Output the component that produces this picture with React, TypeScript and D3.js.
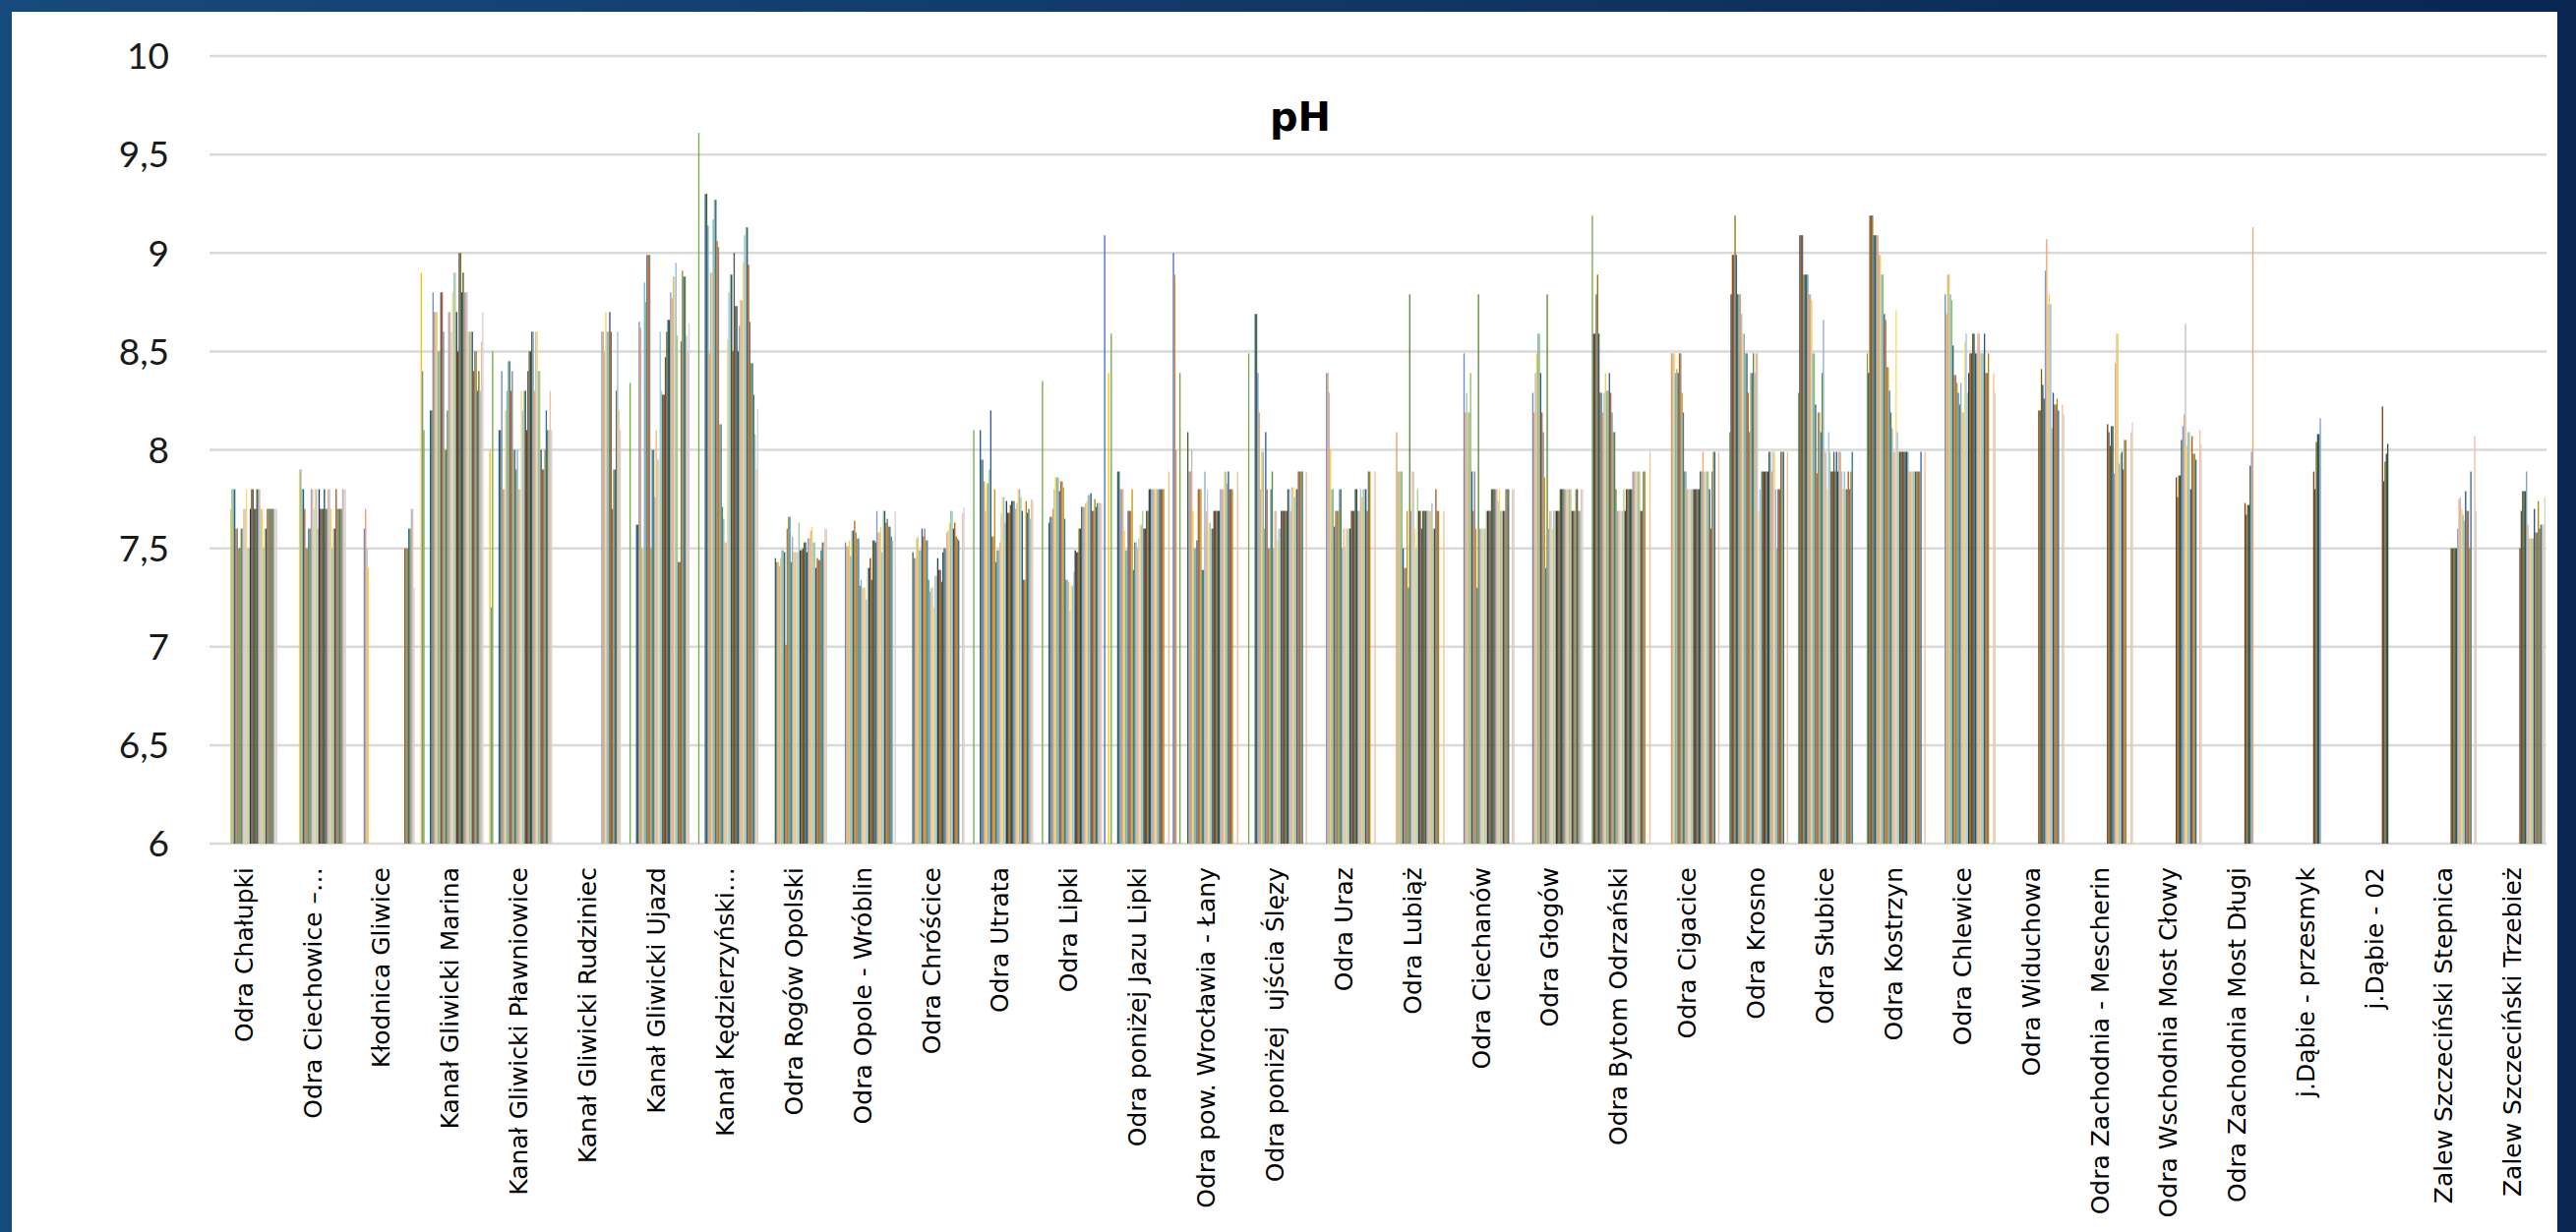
import React, { useEffect, useRef } from 'react';
import * as d3 from 'd3';

const _ = null;

const stations = [
  'Odra Chałupki', 'Odra Ciechowice –…', 'Kłodnica Gliwice', 'Kanał Gliwicki Marina',
  'Kanał Gliwicki Pławniowice', 'Kanał Gliwicki Rudziniec', 'Kanał Gliwicki Ujazd',
  'Kanał Kędzierzyński…', 'Odra Rogów Opolski', 'Odra Opole - Wróblin', 'Odra Chróścice',
  'Odra Utrata', 'Odra Lipki', 'Odra poniżej Jazu Lipki', 'Odra pow. Wrocławia - Łany',
  'Odra poniżej  ujścia Ślęzy', 'Odra Uraz', 'Odra Lubiąż', 'Odra Ciechanów', 'Odra Głogów',
  'Odra Bytom Odrzański', 'Odra Cigacice', 'Odra Krosno', 'Odra Słubice', 'Odra Kostrzyn',
  'Odra Chlewice', 'Odra Widuchowa', 'Odra Zachodnia - Mescherin', 'Odra Wschodnia Most Cłowy',
  'Odra Zachodnia Most Długi', 'j.Dąbie - przesmyk', 'j.Dąbie - 02',
  'Zalew Szczeciński Stepnica', 'Zalew Szczeciński Trzebież',
];

// one array per station, one slot per sampling series (51), null = no sample
const odraChalupki = [
  _, _, _, _, _, _, _, _, _, _, _, _, _, _, _,
  7.7, 7.8, 7.8, 7.8, 7.6, 7.6, 7.5, 7.5, 7.6, 7.6, 7.7, 7.7, 7.8, 7.5, 7.5, 7.7, 7.8, 7.8,
  7.7, 7.7, 7.8, 7.8, 7.8, 7.7, 7.7, 7.5, 7.6, 7.6, 7.7, 7.7, 7.7, 7.7, 7.7, 7.7, 7.7, 7.7];
const odraCiechowice = [
  _, _, _, _, _, _, _, _, _, _, _, _, _, _, _,
  7.9, 7.9, 7.8, 7.8, 7.7, 7.5, 7.5, 7.6, 7.6, 7.8, 7.8, 7.7, 7.8, 7.8, 7.6, 7.8, 7.7, 7.7,
  7.7, 7.8, 7.7, 7.7, 7.8, 7.8, 7.7, 7.5, 7.6, 7.6, 7.8, 7.7, 7.7, 7.7, 7.7, 7.8, 7.8, 7.8];
const klodnicaGliwice = [
  _, _, _, _, _, _, _, _, _, _, _, _,
  7.6, 7.7, 7.5, 7.4,
  _, _, _, _, _, _, _, _, _, _, _, _, _, _, _, _, _, _, _, _, _, _, _, _, _, _, _,
  7.5, 7.5, 7.5, 7.6, 7.6, 7.7, 7.7, 7.3];
const kanalMarina = [
  _, _, _, 8.9, 8.4, 8.1, _, _, _, _,
  8.2, 8.2, 8.8, 8.7, 8.7, 8.7, 8.5, 8.5, 8.8, 8.8, 8.6, 8.0, 8.0, 8.2, 8.7, 8.7, 8.6, 8.8, 8.9, 8.9,
  8.7, 8.5, 9.0, 9.0, 8.8, 8.9, 8.8, 8.8, 8.8, 8.6, 8.6, 8.6, 8.6, 8.4, 8.5, 8.5, 8.3, 8.4, 8.3, 8.55, 8.7];
const kanalPlawniowice = [
  _, _, _, 8.0, 7.2, 8.5, _, _, _, _,
  8.1, 8.1, 8.4, 7.8, 7.8, 8.2, 8.3, 8.45, 8.45, 8.3, 8.4, 8.0, 8.0, 7.9, 8.0, 7.8, 7.8, 8.3, 8.2, 8.3,
  8.3, 8.1, 8.4, 8.5, 8.5, 8.6, 8.6, 8.3, 8.6, 8.6, 8.4, 8.4, 8.0, 7.9, 7.9, 8.0, 8.2, 8.1, 8.1, 8.3, 8.1];
const kanalRudziniec = [
  _, _, _, _, _, _, _, _, _, _, _, _, _, _, _, _, _, _, _, _, _, _, _, _, _, _, _, _, _, _, _, _, _, _, _, _,
  8.6, 8.6, 8.5, 8.7, 8.6, 8.6, 8.7, 8.6, 7.7, 7.9, 7.9, 8.3, 8.6, 8.2, 8.1];
const kanalUjazd = [
  _, _, _, _, _, 8.34, _, _, _, _,
  7.62, 7.62, 8.65, 8.62, 7.5, 7.5, 8.85, 8.75, 8.99, 8.99, 8.99, 7.5, 8.0, 8.0, 7.76, 8.1, 7.95, 7.95, 8.6, 8.3,
  8.28, 8.28, 8.47, 8.6, 8.66, 8.66, 8.8, 8.77, 8.88, 8.88, 8.95, 8.58, 7.43, 7.43, 8.55, 8.91, 8.88, 8.88, 8.58, 8.5, 8.64];
const kanalKedzierzynski = [
  _, _, _, _, _, 9.61, _, _, _, _,
  9.3, 9.3, 9.14, 8.49, 8.9, 8.9, 9.17, 9.27, 9.27, 9.06, 9.03, 8.13, 8.13, 7.71, 7.65, 7.53, 7.53, 8.56, 8.8, 8.89,
  8.89, 8.5, 9.0, 8.73, 8.73, 8.5, 8.63, 8.76, 8.76, 8.95, 9.09, 9.13, 9.13, 8.94, 8.65, 8.44, 8.44, 8.28, 8.08, 7.9, 8.21];
const odraRogow = [
  _, _, _, _, _, _, _, _, _, _, _,
  7.45, 7.43, 7.43, 7.41, 7.45, 7.49, 7.49, 7.48, 7.01, 7.6, 7.66, 7.66, 7.43, 7.56, 7.48, 7.48, 7.48, 7.48, 7.63, 7.49,
  7.49, 7.5, 7.53, 7.53, 7.48, 7.55, 7.55, 7.59, 7.61, 7.53, 7.53, 7.4, 7.45, 7.44, 7.44, 7.49, 7.53, 7.53, 7.6, 7.6];
const odraWroblin = [
  _, _, _, _, _, _, _, _, _, _, _, _,
  7.53, 7.51, 7.51, 7.54, 7.46, 7.59, 7.59, 7.64, 7.58, 7.55, 7.55, 7.31, 7.34, 7.3, 7.3, 7.3, 7.24, 7.4, 7.4, 7.45,
  7.34, 7.54, 7.54, 7.53, 7.69, 7.58, 7.58, 7.61, 7.48, 7.69, 7.69, 7.63, 7.65, 7.61, 7.61, 7.56, 7.54, _, 7.69];
const odraChroscice = [
  _, _, _, _, _, _, _, _, _, _, _,
  7.48, 7.45, 7.45, 7.55, 7.56, 7.49, 7.49, 7.6, 7.56, 7.6, 7.54, 7.54, 7.34, 7.28, 7.3, 7.3, 7.2, 7.36, 7.36, 7.45,
  7.39, 7.39, 7.33, 7.48, 7.5, 7.5, 7.58, 7.59, 7.63, 7.69, 7.69, 7.6, 7.63, 7.56, 7.55, 7.54, _, _, 7.68, 7.71];
const odraUtrata = [
  _, _, _, _, _, 8.1, _, _, _, _,
  8.1, 7.95, 7.95, 7.84, 7.69, 7.83, 7.83, 7.9, 8.2, 7.56, 7.56, 7.8, 7.43, 7.49, 7.49, 7.53, 7.68, 7.76, 7.76, 7.63,
  7.74, 7.68, 7.68, 7.72, 7.74, 7.74, 7.74, 7.7, 7.73, 7.8, 7.8, 7.76, 7.69, 7.34, 7.34, 7.74, 7.68, 7.7, 7.65, 7.75, 7.74];
const odraLipki = [
  _, _, _, _, _, 8.35, _, _, _, _,
  7.63, 7.66, 7.66, 7.7, 7.8, 7.86, 7.86, 7.86, 7.79, 7.84, 7.84, 7.81, 7.65, 7.34, 7.34, 7.33, 7.18, 7.31, 7.31, 7.38,
  7.49, 7.48, 7.48, 7.6, 7.6, 7.71, 7.71, 7.71, 7.73, 7.74, 7.77, 7.77, 7.78, 7.69, 7.69, 7.75, 7.71, 7.73, 7.73, 7.73, 7.73];
const odraJazuLipki = [
  9.09, _, _, 8.39, _, 8.59, _, _, _, _,
  7.89, 7.89, 7.8, 7.8, 7.8, 7.59, 7.49, 7.49, 7.69, 7.69, 7.69, 7.8, 7.39, 7.53, 7.53, 7.5, 7.55, 7.62, 7.62, 7.69,
  7.6, 7.6, 7.69, 7.69, 7.8, 7.8, 7.8, 7.8, 7.8, 7.8, 7.8, 7.8, 7.8, 7.8, 7.8, 7.8,
  _, _, _, 7.89, _];
const odraLany = [
  9.0, 8.89, 8.0, _, _, 8.39, _, _, _, _, _,
  8.09, 7.89, 7.89, 8.0, 7.69, 7.5, 7.5, 7.54, 7.8, 7.8, 7.8, 7.39, 7.39, 7.89, 7.69, 7.8, 7.63, 7.63, 7.6, 7.6,
  7.69, 7.69, 7.69, 7.69, 7.69, 7.8, 7.8, 7.8, 7.89, 7.89, 7.83, 7.89, 7.8, 7.8, 7.8,
  _, _, _, 7.89, _];
const odraSlezy = [
  _, _, _, _, _, 8.49, _, _, _, _,
  8.69, 8.69, 8.39, 8.19, 7.8, 7.99, 7.99, 7.6, 8.09, 7.8, 7.5, 7.5, 7.8, 7.89, 7.5, 7.69, 7.69, 7.54, 7.6, 7.6,
  7.69, 7.69, 7.69, 7.69, 7.69, 7.8, 7.8, 7.69, 7.81, 7.81, 7.76, 7.8, 7.8, 7.89, 7.89, 7.89, 7.89,
  _, _, 7.89, _];
const odraUraz = [
  _, _, _, _, _, _, _, _, _, _, _, _,
  8.39, 8.39, 8.29, 8.0, 7.8, 7.8, 7.61, 7.69, 7.69, 7.69, 7.8, 7.8, 7.5, 7.6, 7.51, 7.6, 7.6, 7.6, 7.6, 7.69,
  7.69, 7.69, 7.8, 7.8, 7.69, 7.69, 7.8, 7.76, 7.8, 7.8, 7.8, 7.69, 7.89, 7.89,
  _, _, _, 7.89, _];
const odraLubiaz = [
  _, _, _, _, _, _, _, _, _, _, _, _, _,
  8.09, 7.89, 7.89, 7.89, 7.89, 7.5, 7.4, 7.4, 7.69, 7.3, 8.79, 7.69, 7.89, 7.89, 7.6, 7.5, 7.8, 7.69, 7.69, 7.6,
  7.69, 7.69, 7.69, 7.69, 7.69, 7.69, 7.69, 7.73, 7.6, 7.6, 7.8, 7.69, 7.69,
  _, _, _, 7.69, _];
const odraCiechanow = [
  _, _, _, _, _, _, _, _, _, _, _, _,
  8.49, 8.19, 8.29, 8.19, 8.19, 8.39, 7.89, 7.69, 7.89, 7.6, 7.3, 8.79, 7.6, 7.6, 7.6, 7.6, 7.6, 7.69, 7.69, 7.69,
  7.69, 7.8, 7.8, 7.8, 7.8, 7.8, 7.74, 7.8, 7.69, 7.69, 7.69, 7.69, 7.8, 7.8, 7.8,
  _, _, 7.8, 7.8];
const odraGlogow = [
  _, _, _, _, _, _, _, _, _, _, _, _,
  8.29, 8.19, 8.39, 8.49, 8.59, 8.59, 8.39, 8.19, 8.09, 7.86, 7.4, 8.79, 7.6, 7.69, 7.69, 7.6, 7.69, 7.69, 7.69, 7.69,
  7.69, 7.8, 7.8, 7.8, 7.8, 7.8, 7.8, 7.8, 7.8, 7.8, 7.69, 7.69, 7.69, 7.8, 7.8, 7.69, 7.69, 7.8, 7.8];
const odraBytom = [
  _, _, _, _, _, 9.19,
  8.59, 8.59, 8.79, 8.89, 8.59, 8.29, 8.29, 8.19, 8.29, 8.39, 8.3, 8.3, 8.39, 8.29, 8.19, 8.09, 8.09, 7.8, 7.69, 7.69,
  7.69, 7.69, 7.69, 7.8, 7.69, 7.8, 7.8, 7.8, 7.8, 7.8, 7.89, 7.89, 7.89, 7.89, 7.89, 7.89, 7.69, 7.69, 7.89, 7.89,
  _, _, _, 7.99, _];
const odraCigacice = [
  _, _, _, _, _, _, _, _, _, _, _, _, _,
  8.49, 8.49, 8.49, 8.39, 8.41, 8.39, 8.49, 8.49, 8.29, 8.19, 7.89, 7.89, 7.8, 7.8, 7.8, 7.8, 7.8, 7.8, 7.8, 7.8,
  7.8, 7.8, 7.89, 7.89, 7.99, 7.89, 7.89, 7.89, 7.89, 7.8, 7.6, 7.89, 7.99, 7.99,
  _, _, 7.99, _];
const odraKrosno = [
  _, _, _, _, _, 8.09,
  8.79, 8.99, 8.99, 9.19, 8.99, 8.79, 8.79, 8.79, 8.69, 8.59, 8.59, 8.49, 8.49, 8.29, 8.09, 8.39, 8.39, 8.49, 8.39, 8.49,
  8.49, 7.69, 7.8, 7.89, 7.89, 7.89, 7.89, 7.89, 7.89, 7.99, 7.99, 7.89, 7.99, 7.99, 7.8, 7.5, 7.8, 7.8, 7.99, 7.99,
  7.99, _, _, 7.99, _];
const odraSlubice = [
  _, _, _, _, _, 8.29,
  9.09, 9.09, 9.09, 8.89, 8.89, 8.89, 8.89, 8.79, 8.79, 8.76, 8.49, 8.49, 8.23, 7.88, 8.19, 8.19, 8.09, 8.39, 8.66, 7.99,
  7.99, 7.8, 8.09, 7.99, 7.89, 7.89, 7.99, 7.89, 7.99, 7.89, 7.99, 7.99, 7.89, 7.8, 7.89, 7.8, 7.8, 7.89, 7.8, 7.89,
  7.99, _, _, _, _];
const odraKostrzyn = [
  _, _, _, _, _,
  8.49, 8.39, 9.19, 9.19, 9.19, 9.09, 9.09, 9.09, 9.09, 8.99, 8.99, 8.89, 8.89, 8.69, 8.66, 8.42, 8.42, 8.3, 8.19, 8.11,
  7.99, 7.99, 8.71, 8.09, 7.99, 7.99, 7.99, 7.99, 7.99, 7.99, 7.99, 7.99, 7.89, 7.89, 7.89, 7.89, 7.89, 7.89, 7.89, 7.89,
  7.89, 7.99, _, _, 7.99, _];
const odraChlewice = [
  _, _, _, _, _, _, _, _, _, _, _, _,
  8.79, 8.69, 8.89, 8.89, 8.79, 8.76, 8.53, 8.38, 8.38, 8.34, 8.29, 8.23, 8.34, 8.19, 8.19, 8.55, 8.59, 8.29, 8.39, 8.49,
  8.49, 8.59, 8.59, 8.49, 8.49, 8.59, 8.59, 8.49, 8.49, 8.49, 8.59, 8.39, 8.39, 8.49,
  _, _, _, 8.39, 8.29];
const odraWiduchowa = [
  _, _, _, _, _, _, _, _, _, _, _, _, _, _, _, _, _, _, _, _, _, _, _, _, _, _, _, _, _, _, _,
  8.2, 8.2, 8.41, 8.33, 8.26, 8.91, 9.07, 8.74, 8.79, 8.74, 8.11, 8.29, 8.23, 8.23, 8.26, 8.2, _, _, 8.23, 8.18];
const odraMescherin = [
  _, _, _, _, _, _, _, _, _, _, _, _, _, _, _, _, _, _, _, _, _, _, _, _, _, _, _, _, _, _, _,
  8.13, 8.09, 8.02, 8.12, 8.12, 7.88, 8.44, 8.59, 8.59, 7.93, 7.98, 7.99, 7.9, 8.05, 8.05, _, _, _, 8.09, 8.14];
const odraMostClowy = [
  _, _, _, _, _, _, _, _, _, _, _, _, _, _, _, _, _, _, _, _, _, _, _, _, _, _, _, _, _, _, _,
  7.86, 7.76, 7.87, 7.87, 8.05, 8.12, 8.18, 8.64, 8.02, 8.09, 8.09, 7.8, 8.07, 7.98, 7.98, 7.95, _, _, 8.1, 8.03];
const odraMostDlugi = [
  _, _, _, _, _, _, _, _, _, _, _, _, _, _, _, _, _, _, _, _, _, _, _, _, _, _, _, _, _, _, _,
  7.73, 7.67, 7.72, 7.72, 7.92, 7.99, 9.13,
  _, _, _, _, _, _, _, _, _, _, _, _, _];
const dabiePrzesmyk = [
  _, _, _, _, _, _, _, _, _, _, _, _, _, _, _, _, _, _, _, _, _, _, _, _, _, _, _, _, _, _, _,
  7.89, 7.8, 8.04, 8.08, 8.08, 8.16,
  _, _, _, _, _, _, _, _, _, _, _, _, _, _];
const dabie02 = [
  _, _, _, _, _, _, _, _, _, _, _, _, _, _, _, _, _, _, _, _, _, _, _, _, _, _, _, _, _, _, _,
  8.22, 7.84, 7.94, 7.98, 8.03,
  _, _, _, _, _, _, _, _, _, _, _, _, _, _, _];
const zalewStepnica = [
  _, _, _, _, _, _, _, _, _, _, _, _, _, _, _, _, _, _, _, _, _, _, _, _, _, _, _, _, _, _, _,
  7.5, 7.5, 7.5, 7.5, 7.5, 7.6, 7.75, 7.76, 7.7, 7.67, 7.64, 7.79, 7.69, 7.69, 7.5, 7.89, _, _, 8.07, 7.69];
const zalewTrzebiez = [
  _, _, _, _, _, _, _, _, _, _, _, _, _, _, _, _, _, _, _, _, _, _, _, _, _, _, _, _, _, _, _,
  7.5, 7.69, 7.79, 7.79, 7.79, 7.89, 7.62, 7.55, 7.55, 7.55, 7.55, 7.7, 7.58, 7.58, 7.74, 7.6, 7.62, 7.62, 7.62, 7.76];

const stationValues = [
  odraChalupki, odraCiechowice, klodnicaGliwice, kanalMarina, kanalPlawniowice, kanalRudziniec,
  kanalUjazd, kanalKedzierzynski, odraRogow, odraWroblin, odraChroscice, odraUtrata, odraLipki,
  odraJazuLipki, odraLany, odraSlezy, odraUraz, odraLubiaz, odraCiechanow, odraGlogow, odraBytom,
  odraCigacice, odraKrosno, odraSlubice, odraKostrzyn, odraChlewice, odraWiduchowa, odraMescherin,
  odraMostClowy, odraMostDlugi, dabiePrzesmyk, dabie02, zalewStepnica, zalewTrzebiez,
];

// office palette, cycling through darker/lighter variants
const seriesColors = [
  '#4472C4', '#ED7D31', '#A5A5A5', '#FFC000', '#5B9BD5', '#70AD47',
  '#264478', '#9E480E', '#636363', '#997300', '#255E91', '#43682B',
  '#698ED0', '#F1975A', '#B7B7B7', '#FFCD33', '#7CAFDD', '#8CC168',
  '#335AA1', '#D26012', '#848484', '#CC9A00', '#327DC2', '#5A8A39',
  '#8FAADC', '#F4B183', '#C9C9C9', '#FFD966', '#9DC3E6', '#A9D18E',
  '#203864', '#843C0C', '#525252', '#7F6000', '#1F4E79', '#385723',
  '#7C9DD6', '#F2A36F', '#C0C0C0', '#FFD24D', '#8CB9E2', '#AAC97B',
  '#2C508D', '#B85310', '#737373', '#B38600', '#2B6DA9', '#5C7932',
  '#A2B9E2', '#F6BE98', '#D2D2D2',
];

const yTicks = [6, 6.5, 7, 7.5, 8, 8.5, 9, 9.5, 10];

const W = 2619;
const H = 1253;

const App: React.FC = () => {
  const svgRef = useRef<SVGSVGElement>(null);

  useEffect(() => {
    const svg = d3.select(svgRef.current);
    svg.selectAll('*').remove();

    // frame
    const grad = svg.append('defs').append('linearGradient')
      .attr('id', 'frameGrad').attr('x1', 0).attr('x2', 1).attr('y1', 0).attr('y2', 0);
    grad.append('stop').attr('offset', '0%').attr('stop-color', '#174a7c');
    grad.append('stop').attr('offset', '100%').attr('stop-color', '#0a2652');
    svg.append('rect').attr('width', W).attr('height', H).attr('fill', 'url(#frameGrad)');
    svg.append('rect').attr('x', 12).attr('y', 12).attr('width', 2588).attr('height', H - 12).attr('fill', '#ffffff');

    const x = d3.scaleBand<string>().domain(stations).range([213, 2589]).paddingInner(0).paddingOuter(0);
    const xs = d3.scaleBand<number>()
      .domain(d3.range(seriesColors.length))
      .range([0, x.bandwidth()])
      .paddingInner(0)
      .paddingOuter(0.75);
    const y = d3.scaleLinear().domain([6, 10]).range([858, 57]);

    // gridlines
    svg.append('g').selectAll('line')
      .data(yTicks)
      .enter().append('line')
      .attr('x1', 213).attr('x2', 2589)
      .attr('y1', d => y(d)).attr('y2', d => y(d))
      .attr('stroke', '#d9d9d9')
      .attr('stroke-width', 2.5);

    // y labels
    svg.append('g').selectAll('text')
      .data(yTicks)
      .enter().append('text')
      .attr('x', 172)
      .attr('y', d => y(d))
      .attr('dy', '0.36em')
      .attr('text-anchor', 'end')
      .attr('font-family', 'Lato, "Open Sans", sans-serif')
      .attr('font-size', 37)
      .attr('fill', '#1a1a1a')
      .text(d => String(d).replace('.', ','));

    // bars
    const groups = svg.append('g').selectAll('g')
      .data(stations)
      .enter().append('g')
      .attr('transform', d => `translate(${x(d)},0)`);

    groups.selectAll('rect')
      .data((_d, i) => stationValues[i].map((v, s) => ({ v, s })).filter(p => p.v !== null))
      .enter().append('rect')
      .attr('x', p => xs(p.s) as number)
      .attr('width', xs.bandwidth())
      .attr('y', p => y(p.v as number))
      .attr('height', p => y(6) - y(p.v as number))
      .attr('fill', p => seriesColors[p.s]);

    // category labels
    svg.append('g').selectAll('text')
      .data(stations)
      .enter().append('text')
      .attr('transform', d => `translate(${(x(d) as number) + x.bandwidth() / 2},882) rotate(-90)`)
      .attr('dy', '0.35em')
      .attr('text-anchor', 'end')
      .attr('font-family', '"DejaVu Sans", sans-serif')
      .attr('font-size', 25)
      .attr('fill', '#000')
      .style('white-space', 'pre')
      .text(d => d);

    // title
    svg.append('text')
      .attr('x', 1322)
      .attr('y', 133)
      .attr('text-anchor', 'middle')
      .attr('font-family', '"DejaVu Sans", sans-serif')
      .attr('font-weight', 'bold')
      .attr('font-size', 40)
      .attr('fill', '#000')
      .text('pH');
  }, []);

  return (
    <svg
      ref={svgRef}
      width={W}
      height={H}
      style={{ position: 'absolute', left: 0, top: 0, display: 'block' }}
    />
  );
};

export default App;
